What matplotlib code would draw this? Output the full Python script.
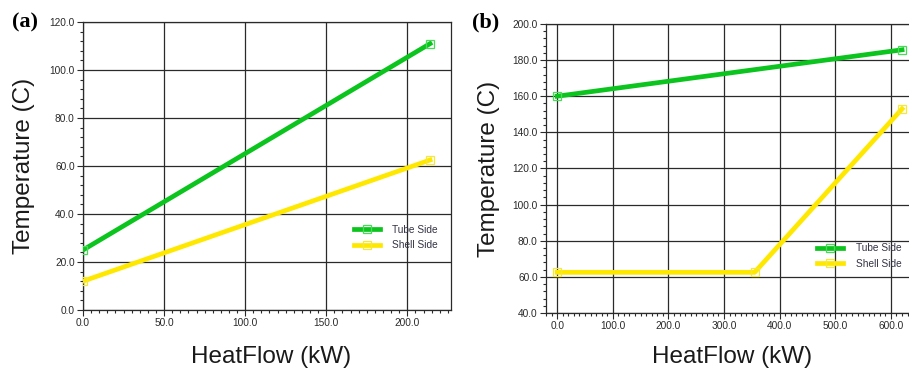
import numpy as np
import matplotlib.pyplot as plt
from matplotlib.ticker import MultipleLocator, FormatStrFormatter

plt.rcParams['font.family'] = ['Liberation Sans', 'DejaVu Sans']

# heat exchanger (a)
a_tube_q = [0.0, 214.0]
a_tube_t = [25.0, 111.0]
a_shell_q = [0.0, 214.0]
a_shell_t = [12.0, 62.5]

# heat exchanger (b)
b_tube_q = [0.0, 620.0]
b_tube_t = [160.0, 185.7]
b_shell_q = [0.0, 355.0, 620.0]
b_shell_t = [62.5, 62.5, 153.0]

green = '#0cc41e'
green_mk = '#44dd55'
yellow = '#ffe800'
yellow_mk = '#f6e83a'
grid_c = '#2a2a2a'

fig = plt.figure(figsize=(9.09, 3.72), dpi=100)
ax_a = fig.add_axes([0.0913, 0.1667, 0.405, 0.774])
ax_b = fig.add_axes([0.6007, 0.1586, 0.399, 0.777])


def draw(ax, tq, tt, sq, st):
    ax.plot(tq, tt, color=green, lw=3.4, marker='s', ms=5.5, mfc='none',
            mec=green_mk, mew=0.9, label='Tube Side', zorder=3)
    ax.plot(sq, st, color=yellow, lw=3.4, marker='s', ms=5.5, mfc='none',
            mec=yellow_mk, mew=0.9, label='Shell Side', zorder=3)


def style(ax, xlab, ylab, leg_xy):
    ax.grid(True, which='major', color=grid_c, lw=0.9)
    ax.set_axisbelow(True)
    for sp in ax.spines.values():
        sp.set_color(grid_c)
        sp.set_linewidth(0.9)
    ax.xaxis.set_major_formatter(FormatStrFormatter('%.1f'))
    ax.yaxis.set_major_formatter(FormatStrFormatter('%.1f'))
    ax.tick_params(which='major', length=4, width=0.8, color=grid_c,
                   labelsize=7.3, labelcolor='#2a2a2a', pad=2)
    ax.tick_params(which='minor', length=2.5, width=0.8, color=grid_c)
    ax.set_ylabel('Temperature (C)', fontsize=17.5, color='#1a1a1a')
    ax.set_xlabel('HeatFlow (kW)', fontsize=17.5, color='#1a1a1a')
    ax.xaxis.set_label_coords(*xlab)
    ax.yaxis.set_label_coords(*ylab)
    leg = ax.legend(loc='center left', bbox_to_anchor=leg_xy, frameon=False,
                    fontsize=7.3, handlelength=2.6, numpoints=1,
                    labelspacing=0.55, handletextpad=1.2)
    for t in leg.get_texts():
        t.set_color('#333344')


draw(ax_a, a_tube_q, a_tube_t, a_shell_q, a_shell_t)
ax_a.set_xlim(0, 227)
ax_a.set_ylim(0, 120)
ax_a.xaxis.set_major_locator(MultipleLocator(50))
ax_a.xaxis.set_minor_locator(MultipleLocator(5))
ax_a.yaxis.set_major_locator(MultipleLocator(20))
ax_a.yaxis.set_minor_locator(MultipleLocator(4))
style(ax_a, (0.51, -0.125), (-0.131, 0.5), (0.711, 0.252))

draw(ax_b, b_tube_q, b_tube_t, b_shell_q, b_shell_t)
ax_b.set_xlim(-20, 632)
ax_b.set_ylim(40, 200)
ax_b.xaxis.set_major_locator(MultipleLocator(100))
ax_b.xaxis.set_minor_locator(MultipleLocator(10))
ax_b.yaxis.set_major_locator(MultipleLocator(20))
ax_b.yaxis.set_minor_locator(MultipleLocator(4))
style(ax_b, (0.512, -0.114), (-0.127, 0.5), (0.722, 0.197))
ax_b.spines['right'].set_visible(False)

fig.text(0.013, 0.94, '(a)', fontsize=16, fontweight='bold',
         family='Liberation Serif', va='center')
fig.text(0.519, 0.94, '(b)', fontsize=16, fontweight='bold',
         family='Liberation Serif', va='center')

plt.savefig('out.png', dpi=100)
